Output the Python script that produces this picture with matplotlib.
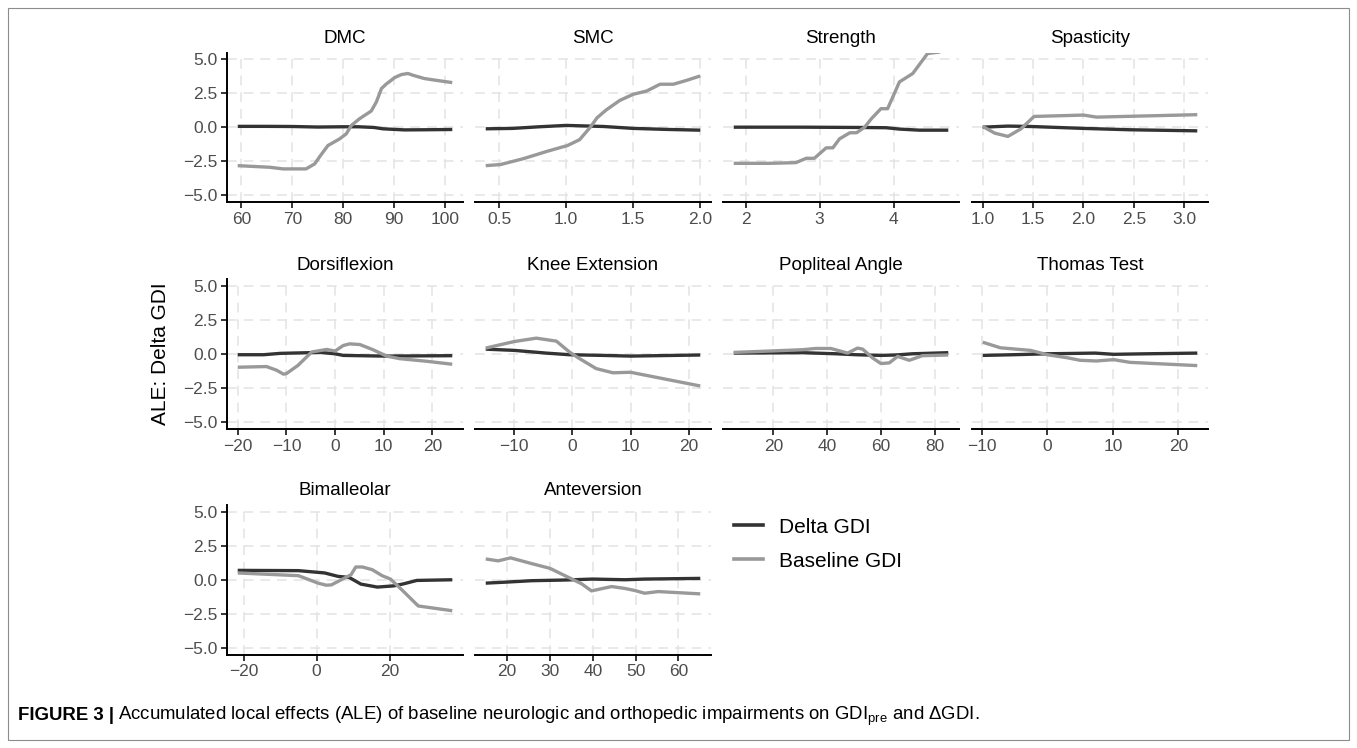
import numpy as np
import matplotlib
matplotlib.use("Agg")
import matplotlib.pyplot as plt
from matplotlib.lines import Line2D
from matplotlib.patches import Rectangle

plt.rcParams['font.family'] = ['Liberation Sans', 'DejaVu Sans']
plt.rcParams['lines.scale_dashes'] = False

# ---- данные ----
dmc_delta_x = [59.3, 65, 70, 75, 80, 83, 86, 87.8, 92, 96, 101.4]
dmc_delta_y = [0.08, 0.08, 0.07, 0.03, 0.05, 0.05, 0.0, -0.1, -0.18, -0.17, -0.15]
dmc_base_x = [59.3, 65.6, 68.2, 72.7, 74.4, 75.4, 77, 79.3, 80.6, 81.6, 83.2, 85.5,
              86.5, 87.5, 88.4, 90.1, 91.4, 92.7, 93.7, 95.9, 98.2, 101.4]
dmc_base_y = [-2.81, -2.93, -3.05, -3.05, -2.68, -2.14, -1.33, -0.84, -0.47, 0.15, 0.64, 1.21,
              1.87, 2.86, 3.18, 3.67, 3.89, 3.97, 3.84, 3.6, 3.47, 3.3]

smc_delta_x = [0.40, 0.6, 0.8, 1.0, 1.28, 1.5, 1.77, 2.0]
smc_delta_y = [-0.1, -0.07, 0.05, 0.15, 0.07, -0.07, -0.15, -0.2]
smc_base_x = [0.40, 0.51, 0.68, 0.86, 1.01, 1.10, 1.18, 1.23, 1.30, 1.40, 1.5, 1.6, 1.7, 1.8, 1.9, 2.0]
smc_base_y = [-2.81, -2.73, -2.3, -1.75, -1.33, -0.9, 0.02, 0.71, 1.3, 1.99, 2.44, 2.68, 3.18, 3.18, 3.47, 3.79]

strength_delta_x = [1.84, 2.77, 3.5, 3.9, 4.08, 4.35, 4.74]
strength_delta_y = [0.02, 0.02, 0.0, -0.02, -0.12, -0.2, -0.2]
strength_base_x = [1.84, 2.32, 2.68, 2.82, 2.93, 3.09, 3.18, 3.27, 3.41, 3.5, 3.61, 3.70,
                   3.83, 3.92, 4.08, 4.26, 4.46, 4.62, 4.74]
strength_base_y = [-2.64, -2.64, -2.59, -2.27, -2.27, -1.5, -1.5, -0.84, -0.39, -0.39, 0.02, 0.64,
                   1.38, 1.38, 3.35, 3.97, 5.44, 5.55, 5.9]

spas_delta_x = [1.0, 1.25, 1.48, 2.0, 2.46, 3.13]
spas_delta_y = [0.02, 0.1, 0.07, -0.07, -0.17, -0.25]
spas_base_x = [1.0, 1.12, 1.25, 1.38, 1.51, 2.0, 2.13, 3.13]
spas_base_y = [0.07, -0.42, -0.66, -0.1, 0.81, 0.91, 0.76, 0.94]

dors_delta_x = [-20, -14.7, -11.3, -3.1, 0, 1.7, 10, 24.1]
dors_delta_y = [-0.05, -0.05, 0.05, 0.12, 0.02, -0.1, -0.15, -0.12]
dors_base_x = [-20, -14.1, -12, -10.6, -10, -7.6, -4.8, -1.7, 0, 1.7, 3.0, 5.1, 7.8, 10.6, 13.3, 18.8, 24.1]
dors_base_y = [-0.97, -0.92, -1.19, -1.48, -1.44, -0.83, 0.15, 0.34, 0.22, 0.63, 0.75, 0.7, 0.32,
               -0.15, -0.34, -0.53, -0.75]

knee_delta_x = [-14.9, -10, -4.5, -0.5, 5.3, 10, 22]
knee_delta_y = [0.36, 0.27, 0.07, -0.05, -0.1, -0.15, -0.07]
knee_base_x = [-14.9, -10, -6.2, -2.75, -0.5, 1.25, 4.1, 7.0, 10, 22]
knee_base_y = [0.44, 0.92, 1.17, 0.95, 0.15, -0.34, -1.07, -1.38, -1.34, -2.35]

popl_delta_x = [5.3, 30.9, 43.3, 50.7, 60, 65.5, 71.7, 85]
popl_delta_y = [0.07, 0.1, 0.02, -0.05, -0.1, -0.07, 0.02, 0.1]
popl_base_x = [5.3, 18.5, 30.9, 35.8, 41.4, 47.6, 51.3, 53.2, 56.9, 60, 63.1, 66.2, 70.5, 75.4, 85]
popl_base_y = [0.12, 0.22, 0.32, 0.41, 0.41, 0.07, 0.44, 0.36, -0.29, -0.7, -0.65, -0.17, -0.46,
               -0.12, -0.07]

thom_delta_x = [-9.9, -5.2, 0, 7.3, 10.1, 15.2, 22.9]
thom_delta_y = [-0.1, -0.05, 0.02, 0.07, -0.02, 0.02, 0.07]
thom_base_x = [-9.9, -7.2, -2.6, 0, 3.0, 5.0, 7.5, 10.1, 12.6, 17.7, 22.9]
thom_base_y = [0.87, 0.46, 0.27, -0.05, -0.27, -0.46, -0.51, -0.41, -0.61, -0.73, -0.85]

bima_delta_x = [-21.6, -5, 2.2, 5.8, 8.9, 12.1, 16.6, 21.1, 23.8, 27.4, 37.1]
bima_delta_y = [0.69, 0.67, 0.5, 0.25, 0.17, -0.32, -0.54, -0.45, -0.3, -0.05, 0.0]
bima_base_x = [-21.6, -5, 0.4, 2.6, 4.0, 7.6, 9.4, 10.7, 12.5, 15.2, 17.9, 20.2, 23.3, 27.8, 37.1]
bima_base_y = [0.5, 0.3, -0.25, -0.4, -0.38, 0.12, 0.37, 0.94, 0.94, 0.74, 0.3, 0.05, -0.74,
               -1.93, -2.28]

ante_delta_x = [15, 20, 25.7, 33.5, 40, 47.5, 52.1, 65.1]
ante_delta_y = [-0.25, -0.17, -0.07, -0.02, 0.05, 0.0, 0.05, 0.1]
ante_base_x = [15, 17.9, 20.8, 25.7, 30, 33.5, 37.4, 39.7, 44.4, 47.5, 49.8, 52.1, 55.3, 65.1]
ante_base_y = [1.53, 1.39, 1.61, 1.19, 0.84, 0.3, -0.3, -0.82, -0.5, -0.64, -0.79, -0.99, -0.87, -1.04]

titles = ['DMC', 'SMC', 'Strength', 'Spasticity', 'Dorsiflexion', 'Knee Extension',
          'Popliteal Angle', 'Thomas Test', 'Bimalleolar', 'Anteversion']
xticks = [[60, 70, 80, 90, 100], [0.5, 1.0, 1.5, 2.0], [2, 3, 4], [1.0, 1.5, 2.0, 2.5, 3.0],
          [-20, -10, 0, 10, 20], [-10, 0, 10, 20], [20, 40, 60, 80], [-10, 0, 10, 20],
          [-20, 0, 20], [20, 30, 40, 50, 60]]
xticklabels = [['60', '70', '80', '90', '100'], ['0.5', '1.0', '1.5', '2.0'], ['2', '3', '4'],
               ['1.0', '1.5', '2.0', '2.5', '3.0'], ['\u221220', '\u221210', '0', '10', '20'],
               ['\u221210', '0', '10', '20'], ['20', '40', '60', '80'], ['\u221210', '0', '10', '20'],
               ['\u221220', '0', '20'], ['20', '30', '40', '50', '60']]
yticks = [-5.0, -2.5, 0.0, 2.5, 5.0]
yticklabels = ['\u22125.0', '\u22122.5', '0.0', '2.5', '5.0']
series_names = ['Delta GDI', 'Baseline GDI']

panels = [
    (dmc_delta_x, dmc_delta_y, dmc_base_x, dmc_base_y),
    (smc_delta_x, smc_delta_y, smc_base_x, smc_base_y),
    (strength_delta_x, strength_delta_y, strength_base_x, strength_base_y),
    (spas_delta_x, spas_delta_y, spas_base_x, spas_base_y),
    (dors_delta_x, dors_delta_y, dors_base_x, dors_base_y),
    (knee_delta_x, knee_delta_y, knee_base_x, knee_base_y),
    (popl_delta_x, popl_delta_y, popl_base_x, popl_base_y),
    (thom_delta_x, thom_delta_y, thom_base_x, thom_base_y),
    (bima_delta_x, bima_delta_y, bima_base_x, bima_base_y),
    (ante_delta_x, ante_delta_y, ante_base_x, ante_base_y),
]

DARK = '#333333'
LIGHT = '#999999'
W, H = 1357, 748

fig = plt.figure(figsize=(W / 100, H / 100), dpi=100)

col_x = [227, 475, 723, 972]
row_top = [52.7, 279.3, 505]
pw, ph = 236, 149.5

for i, (dx, dy, bx, by) in enumerate(panels):
    r, c = divmod(i, 4)
    ax = fig.add_axes([col_x[c] / W, 1 - (row_top[r] + ph) / H, pw / W, ph / H])
    ax.plot(dx, dy, color=DARK, lw=2.4, solid_capstyle='butt', zorder=3)
    ax.plot(bx, by, color=LIGHT, lw=2.4, solid_capstyle='butt', zorder=3)
    lo = min(min(dx), min(bx))
    hi = max(max(dx), max(bx))
    pad = (hi - lo) * 0.05
    ax.set_xlim(lo - pad, hi + pad)
    ax.set_ylim(-5.5, 5.5)
    ax.set_xticks(xticks[i])
    ax.set_xticklabels(xticklabels[i])
    ax.set_yticks(yticks)
    ax.grid(True, color='#E3E3E3', lw=1.1, ls=(0, (7, 5)), zorder=0)
    for s in ['top', 'right']:
        ax.spines[s].set_visible(False)
    ax.spines['bottom'].set_linewidth(1.4)
    ax.spines['left'].set_linewidth(1.4)
    ax.tick_params(axis='x', length=4, width=1.1, colors='black', labelcolor='#4D4D4D',
                   labelsize=12.5, pad=3)
    if c == 0:
        ax.set_yticklabels(yticklabels)
        ax.tick_params(axis='y', length=4, width=1.1, colors='black', labelcolor='#4D4D4D',
                       labelsize=12.5, pad=3)
    else:
        ax.spines['left'].set_visible(False)
        ax.tick_params(axis='y', length=0, labelleft=False)
    ax.set_title(titles[i], fontsize=13.5, color='black', pad=7)

fig.text(161 / W, 1 - 354 / H, 'ALE: Delta GDI', rotation=90, fontsize=15,
         ha='center', va='center')

handles = [Line2D([], [], color=DARK, lw=2.6), Line2D([], [], color=LIGHT, lw=2.6)]
fig.legend(handles, series_names, loc='upper left', bbox_to_anchor=(715 / W, 1 - 499 / H),
           frameon=False, fontsize=15, handlelength=1.4, handletextpad=0.75, labelspacing=0.72)

# подпись рисунка
t = fig.text(18 / W, 1 - 716 / H, 'FIGURE 3 |', fontsize=13.4, fontweight='bold', va='center')
fig.canvas.draw()
bb = t.get_window_extent()
fig.text((bb.x1 + 4) / W, 1 - 716 / H,
         'Accumulated local effects (ALE) of baseline neurologic and orthopedic impairments on '
         r'GDI$_{\mathregular{pre}}$ and $\mathregular{\Delta}$GDI.',
         fontsize=13.4, va='center')

fig.patches.append(Rectangle((8 / W, 1 - 740 / H), (1349 - 8) / W, (740 - 8) / H,
                             transform=fig.transFigure, fill=False, ec='#8C8C8C', lw=0.8))

fig.savefig('out.png', dpi=100)
